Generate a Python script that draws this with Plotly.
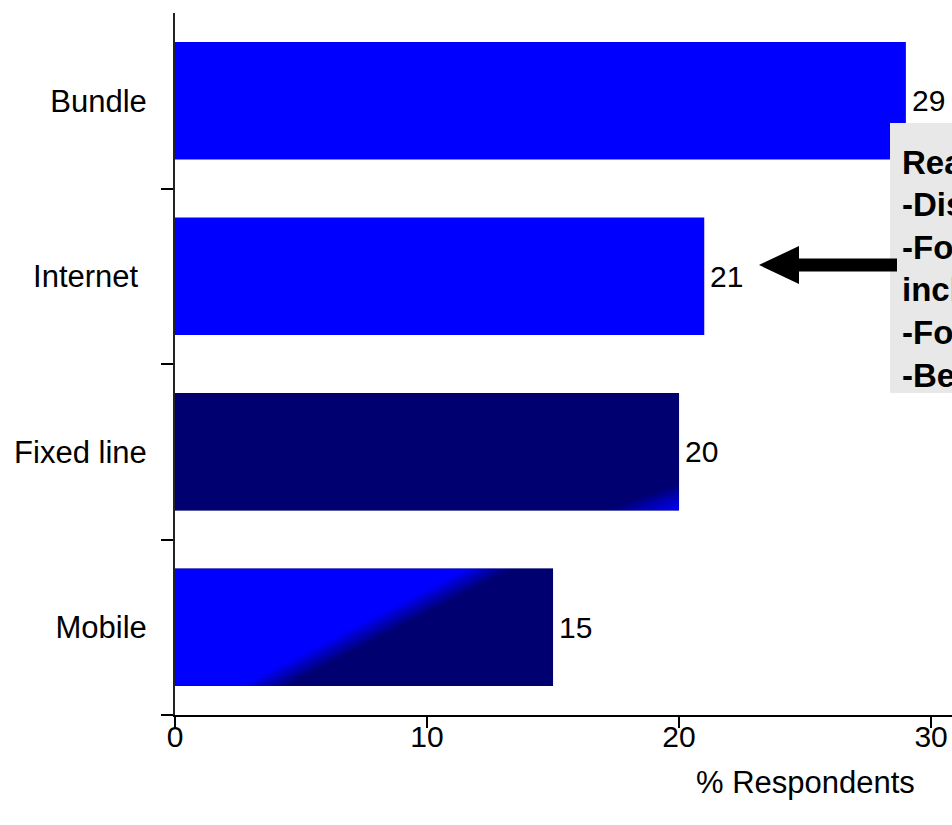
import base64
import plotly.graph_objects as go

# ---- data -------------------------------------------------------------
categories = ["Bundle", "Internet", "Fixed line", "Mobile"]
cat_labels = ["Bundle", "Internet\u00a0", "Fixed line", "Mobile"]
values = [29, 21, 20, 15]
x_ticks = [0, 10, 20, 30]
x_title = "% Respondents"
note_lines = [
    "Reasons:",
    "-Discounts offered",
    "-Forced to take it, as",
    "included in package",
    "-Forgot to cancel",
    "-Better service",
]

# ---- styling / layout constants ----------------------------------------
W, H = 952, 825
M_L, M_R, M_T, M_B = 175, 0, 13, 110
PLOT_W = W - M_L - M_R
PLOT_H = H - M_T - M_B
X_MAX = 30.83
BAR_W = 0.67
BLUE = "#0000FF"
NAVY = "#000070"
FONT = "Liberation Sans, Arial, sans-serif"
FS = 31
FS_NUM = 30
FS_NOTE = 33

bar_colors = {"Bundle": BLUE, "Internet": BLUE, "Fixed line": NAVY, "Mobile": NAVY}

# category order on the axis (bottom -> top)
axis_order = list(reversed(categories))
n_cat = len(axis_order)
px_per_unit = PLOT_W / X_MAX
px_per_cat = PLOT_H / n_cat


def px_to_paper(px, py):
    return (px - M_L) / PLOT_W, (H - M_B - py) / PLOT_H


def gradient_uri(w, h, p0, p1, c0, c1):
    svg = (
        f'<svg xmlns="http://www.w3.org/2000/svg" width="{w:.2f}" height="{h:.2f}" '
        f'viewBox="0 0 {w:.2f} {h:.2f}" preserveAspectRatio="none">'
        f'<defs><linearGradient id="g" gradientUnits="userSpaceOnUse" '
        f'x1="{p0[0]:.2f}" y1="{p0[1]:.2f}" x2="{p1[0]:.2f}" y2="{p1[1]:.2f}">'
        f'<stop offset="0" stop-color="{c0}"/><stop offset="1" stop-color="{c1}"/>'
        f'</linearGradient></defs>'
        f'<rect x="0" y="0" width="{w:.2f}" height="{h:.2f}" fill="url(#g)"/></svg>'
    )
    return "data:image/svg+xml;base64," + base64.b64encode(svg.encode()).decode()


def edge_gradient(w, h, a, b, spread, c_from, c_to, to_corner=None):
    """Linear gradient across the line a-b (pixel coords inside the bar)."""
    dx, dy = b[0] - a[0], b[1] - a[1]
    L = (dx * dx + dy * dy) ** 0.5
    nx, ny = -dy / L, dx / L
    if ny < 0:
        nx, ny = -nx, -ny
    cx, cy = (a[0] + b[0]) / 2, (a[1] + b[1]) / 2
    if to_corner is not None:
        d = (to_corner[0] - cx) * nx + (to_corner[1] - cy) * ny
        p0, p1 = (cx, cy), (cx + d * nx, cy + d * ny)
    else:
        p0 = (cx - spread * nx, cy - spread * ny)
        p1 = (cx + spread * nx, cy + spread * ny)
    return gradient_uri(w, h, p0, p1, c_from, c_to)


fig = go.Figure()
fig.add_trace(
    go.Bar(
        x=values,
        y=categories,
        orientation="h",
        width=BAR_W,
        marker=dict(color=[bar_colors[c] for c in categories], line=dict(width=0)),
        hoverinfo="skip",
    )
)

# gradient shading on the dark bars
images = []
for cat, v in zip(categories, values):
    w = v * px_per_unit
    h = BAR_W * px_per_cat
    idx = axis_order.index(cat)
    if cat == "Mobile":
        src = edge_gradient(w, h, (0.233 * w, h), (0.833 * w, 0), 11, BLUE, NAVY)
    elif cat == "Fixed line":
        src = edge_gradient(w, h, (0.848 * w, h), (w, 0.763 * h), 0, NAVY, BLUE,
                            to_corner=(w, h))
    else:
        continue
    images.append(dict(
        source=src, xref="x", yref="y", x=0, y=idx + BAR_W / 2,
        sizex=v, sizey=BAR_W, xanchor="left", yanchor="top",
        sizing="stretch", layer="above",
    ))

annotations = []
# value labels
for cat, v in zip(categories, values):
    annotations.append(dict(
        x=v, y=cat, xref="x", yref="y", text=str(v), showarrow=False,
        xanchor="left", yanchor="middle", xshift=4,
        font=dict(family=FONT, size=FS_NUM, color="black"),
    ))

# axis title
tx, ty = px_to_paper(805, 782)
annotations.append(dict(
    x=tx, y=ty, xref="paper", yref="paper", text=x_title, showarrow=False,
    xanchor="center", yanchor="middle", font=dict(family=FONT, size=FS, color="black"),
))

# callout text
for i, line in enumerate(note_lines):
    lx, ly = px_to_paper(900, 162 + 42.6 * i)
    annotations.append(dict(
        x=lx, y=ly, xref="paper", yref="paper", text=f"<b>{line}</b>",
        showarrow=False, xanchor="left", yanchor="middle",
        font=dict(family=FONT, size=FS_NOTE, color="black"),
    ))

shapes = []
# callout box
bx0, by0 = px_to_paper(890, 393)
bx1, by1 = px_to_paper(1150, 123)
shapes.append(dict(type="rect", xref="paper", yref="paper", x0=bx0, y0=by0,
                   x1=bx1, y1=by1, fillcolor="#E8E8E8", line=dict(width=0),
                   layer="above"))

# arrow pointing at the Internet bar
pts = [(759, 265), (799, 246), (799, 258.5), (897, 258.5), (897, 271.5),
       (799, 271.5), (799, 284)]
path = "M " + " L ".join("{:.5f},{:.5f}".format(*px_to_paper(px, py)) for px, py in pts) + " Z"
shapes.append(dict(type="path", xref="paper", yref="paper", path=path,
                   fillcolor="black", line=dict(width=0), layer="above"))

fig.update_layout(
    width=W, height=H,
    margin=dict(l=M_L, r=M_R, t=M_T, b=M_B, pad=0),
    paper_bgcolor="white", plot_bgcolor="white",
    showlegend=False,
    bargap=1 - BAR_W,
    font=dict(family=FONT, size=FS, color="black"),
    xaxis=dict(
        range=[0, X_MAX], tickvals=x_ticks, ticktext=[str(t) for t in x_ticks],
        ticks="outside", ticklen=11, tickwidth=1.5, tickcolor="black",
        showline=True, linecolor="black", linewidth=1.5,
        showgrid=False, zeroline=False, fixedrange=True,
        tickfont=dict(family=FONT, size=FS_NUM, color="black"),
        ticklabelstandoff=-17,
    ),
    yaxis=dict(
        type="category", categoryorder="array", categoryarray=axis_order,
        tickvals=categories, ticktext=cat_labels,
        range=[-0.5, n_cat - 0.5], tickson="boundaries",
        ticks="outside", ticklen=12, tickwidth=1.5, tickcolor="black",
        showline=True, linecolor="#222222", linewidth=2,
        showgrid=False, zeroline=False, fixedrange=True,
        tickfont=dict(family=FONT, size=FS, color="black"),
        ticklabelstandoff=20,
    ),
    annotations=annotations,
    shapes=shapes,
    images=images,
)

fig.write_html("out.html")
